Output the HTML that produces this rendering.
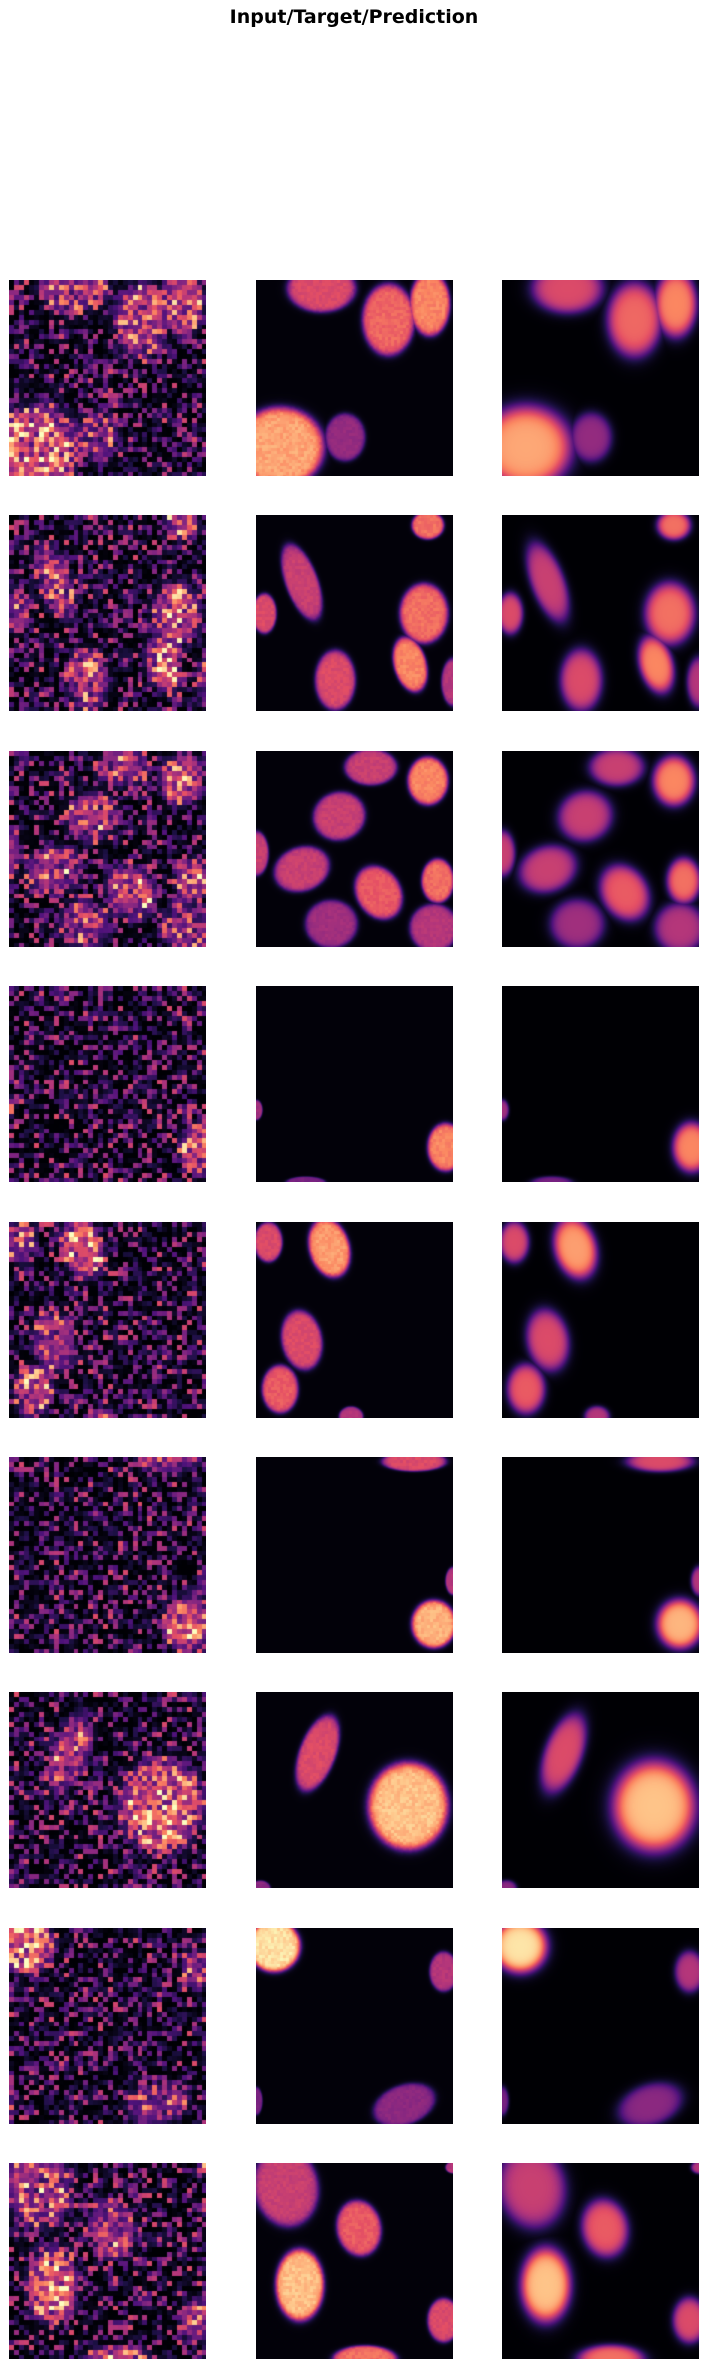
<!DOCTYPE html>
<html><head><meta charset="utf-8">
<style>
body{margin:0;background:#fff;width:708px;height:2369px;position:relative;overflow:hidden}
#title{position:absolute;left:0;width:708px;top:6px;text-align:center;font:bold 19px "DejaVu Sans","Liberation Sans",sans-serif;color:#000}
canvas{position:absolute}
</style></head>
<body>
<div id="title">Input/Target/Prediction</div>
<div id="grid"></div>
<script>
// nuclei per row: [u, v, rx, ry, brightness, angleDeg]
const row1 = [[0.33,0.04,0.17,0.12,0.6,0],[0.67,0.2,0.13,0.18,0.68,0],[0.88,0.12,0.1,0.16,0.75,0],[0.12,0.85,0.22,0.2,0.82,0],[0.45,0.8,0.1,0.12,0.42,0]];
const row2 = [[0.23,0.34,0.08,0.2,0.55,-20],[0.04,0.5,0.06,0.1,0.6,0],[0.4,0.84,0.1,0.15,0.6,0],[0.85,0.5,0.12,0.15,0.7,0],[0.78,0.76,0.08,0.14,0.75,-15],[0.87,0.05,0.08,0.07,0.7,0],[1.0,0.85,0.06,0.12,0.5,0]];
const row3 = [[0.58,0.08,0.13,0.09,0.55,0],[0.87,0.15,0.1,0.12,0.75,0],[0.42,0.33,0.13,0.12,0.55,-20],[0.23,0.6,0.14,0.11,0.55,-20],[0.62,0.72,0.11,0.14,0.65,-30],[0.92,0.66,0.08,0.11,0.7,0],[0.38,0.88,0.13,0.12,0.45,0],[0.9,0.9,0.12,0.12,0.5,0],[0.0,0.52,0.06,0.11,0.55,0]];
const row4 = [[0.96,0.82,0.09,0.12,0.75,0],[0.0,0.63,0.03,0.05,0.45,0],[0.25,1.0,0.1,0.03,0.35,0]];
const row5 = [[0.37,0.13,0.1,0.15,0.8,-15],[0.06,0.1,0.07,0.1,0.6,0],[0.23,0.6,0.1,0.15,0.6,-10],[0.12,0.85,0.09,0.12,0.65,0],[0.48,0.99,0.06,0.05,0.5,0]];
const row6 = [[0.8,0.02,0.16,0.05,0.6,0],[0.9,0.85,0.11,0.12,0.85,0],[1.0,0.63,0.04,0.07,0.5,0]];
const row7 = [[0.31,0.31,0.09,0.2,0.6,20],[0.77,0.58,0.2,0.22,0.88,0],[0.02,1.0,0.05,0.04,0.4,0]];
const row8 = [[0.09,0.09,0.13,0.13,0.95,0],[0.95,0.22,0.07,0.1,0.5,0],[0.75,0.9,0.16,0.1,0.4,-20],[0.0,0.88,0.03,0.07,0.35,0]];
const row9 = [[0.15,0.12,0.16,0.2,0.55,-10],[0.52,0.33,0.11,0.14,0.65,-10],[0.22,0.62,0.12,0.18,0.88,0],[0.95,0.8,0.08,0.11,0.6,0],[0.55,1.0,0.16,0.07,0.7,0],[1.0,0.02,0.04,0.03,0.5,0]];
const rows = [row1,row2,row3,row4,row5,row6,row7,row8,row9];
const colNames = ['input','target','prediction'];

const magma=[[0,0,4],[28,16,68],[79,18,123],[129,37,129],[181,54,122],[229,80,100],[251,135,97],[254,194,135],[252,253,191]];
function cmap(t){t=Math.max(0,Math.min(1,t))*8;const i=Math.min(7,Math.floor(t)),f=t-i;const a=magma[i],b=magma[i+1];return [a[0]+(b[0]-a[0])*f,a[1]+(b[1]-a[1])*f,a[2]+(b[2]-a[2])*f];}
function hash(x,y,s){let h=(x*374761393+y*668265263+s*2147483647)|0;h=(h^(h>>>13))*1274126177|0;h=h^(h>>>16);return ((h>>>0)%10000)/10000;}
function field(blobs,u,v,soft){let m=0;for(const b of blobs){const a=b[5]*Math.PI/180,dx=u-b[0],dy=v-b[1];const x=dx*Math.cos(a)+dy*Math.sin(a),y=-dx*Math.sin(a)+dy*Math.cos(a);const d=Math.sqrt((x/b[2])**2+(y/b[3])**2);const val=b[4]/(1+Math.exp((d-1)/soft));if(val>m)m=val;}return m;}

const W=197,H=196,xs=[9,256,502],top0=280,step=235.4;
const grid=document.getElementById('grid');
rows.forEach((blobs,r)=>{
  for(let c=0;c<3;c++){
    const cv=document.createElement('canvas');
    
    
    cv.width=W;cv.height=H;cv.style.left=xs[c]+'px';cv.style.top=Math.round(top0+r*step)+'px';
    const ctx=cv.getContext('2d'),img=ctx.createImageData(W,H);
    for(let y=0;y<H;y++)for(let x=0;x<W;x++){
      let t;
      if(c===0){const cx=Math.floor(x/W*40),cy=Math.floor(y/H*40);const u=(cx+0.5)/40,v=(cy+0.5)/40;
        const f=field(blobs,u,v,0.1);const n=hash(cx,cy,r+1);t=n*n*n*0.6+f*(0.3+0.55*hash(cy,cx,r+7));}
      else if(c===1){const u=x/W,v=y/H;const f=field(blobs,u,v,0.06);t=f*(0.93+0.1*hash(Math.floor(x/3),Math.floor(y/3),r+3))+0.01;}
      else{const u=x/W,v=y/H;t=field(blobs,u,v,0.13);}
      const col=cmap(t),k=(y*W+x)*4;img.data[k]=col[0];img.data[k+1]=col[1];img.data[k+2]=col[2];img.data[k+3]=255;}
    ctx.putImageData(img,0,0);
    grid.appendChild(cv);
  }
});
</script>
</body></html>
